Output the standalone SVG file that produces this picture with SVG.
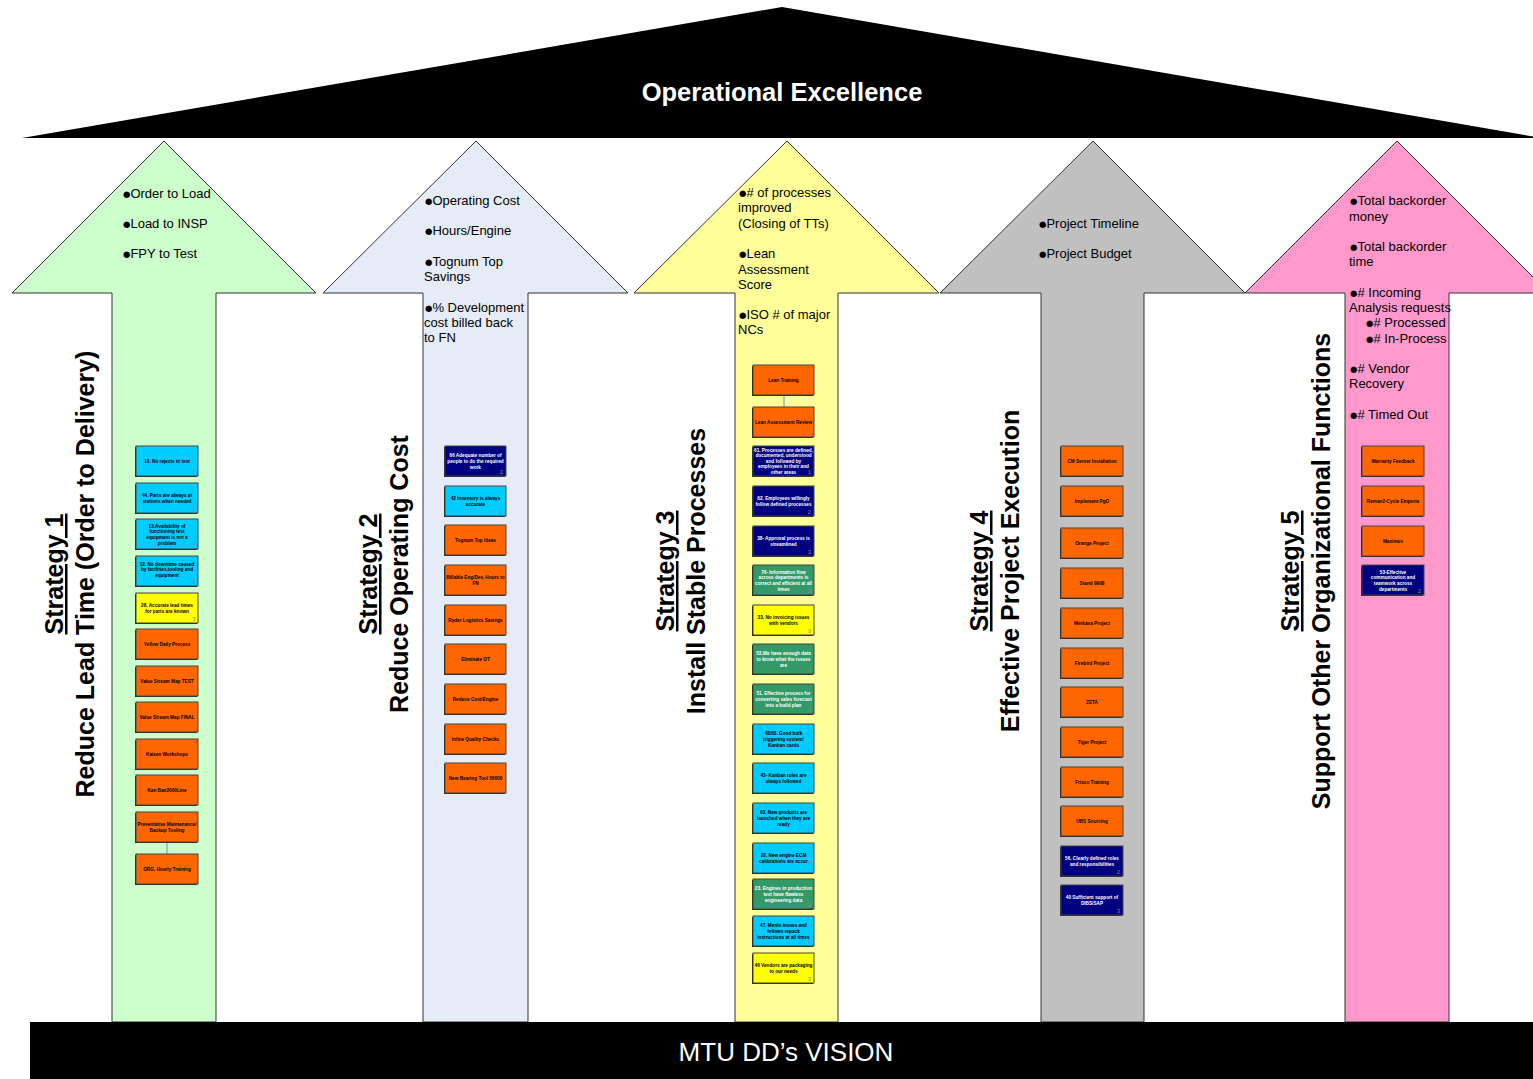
<svg xmlns="http://www.w3.org/2000/svg" width="1533" height="1079" viewBox="0 0 1533 1079">
<style>
  .arrow{stroke:#333;stroke-width:1}
  .sh{fill:#222}
  .bx{stroke:#444;stroke-width:1}
  .or{fill:#ff6600}.cy{fill:#00ccff}.ye{fill:#ffff00}.db{fill:#000080}.gr{fill:#339966}
  .t{font-family:'Liberation Sans',Arial,sans-serif;font-weight:bold;font-size:4.7px;text-anchor:middle;fill:#000}
  .tw{fill:#fff}
  .n{font-family:'Liberation Sans',Arial,sans-serif;font-size:6px;text-anchor:end;fill:#8a8a8a}
  .m{font-family:'Liberation Sans',Arial,sans-serif;font-size:13px;fill:#000}
  .b{font-family:'DejaVu Sans',sans-serif;font-size:8.5px}
  .s{font-family:'Liberation Sans',Arial,sans-serif;font-weight:bold;font-size:25px;text-anchor:middle;fill:#000}
  .u{text-decoration:underline}
  .conn{stroke:#7090b0;stroke-width:1;fill:none}
</style>

<!-- roof -->
<g id="roof">
  <polygon points="22,138 782,7 1542,138" fill="#000"/>
  <text x="782" y="101" font-family="'Liberation Sans',Arial,sans-serif" font-weight="bold" font-size="25.5" fill="#fff" text-anchor="middle">Operational Excellence</text>
</g>

<!-- pillars -->
<g id="pillar1">
  <polygon class="arrow" fill="#ccffcc" points="164,141 316,293 216,293 216,1022 112,1022 112,293 12,293"/>
  <text class="m" x="123" y="198"><tspan class="b" dy="-1.5">●</tspan><tspan dy="1.5">Order to Load</tspan></text>
  <text class="m" x="123" y="228"><tspan class="b" dy="-1.5">●</tspan><tspan dy="1.5">Load to INSP</tspan></text>
  <text class="m" x="123" y="258"><tspan class="b" dy="-1.5">●</tspan><tspan dy="1.5">FPY to Test</tspan></text>
  <text class="s u" transform="translate(63,574) rotate(-90)">Strategy 1</text>
  <text class="s" transform="translate(94,574) rotate(-90)">Reduce Lead Time (Order to Delivery)</text>
</g>
<g id="pillar2">
  <polygon class="arrow" fill="#e6ecf7" points="476,141 628,293 528,293 528,1022 423,1022 423,293 323,293"/>
  <text class="m" x="425" y="205"><tspan class="b" dy="-1.5">●</tspan><tspan dy="1.5">Operating Cost</tspan></text>
  <text class="m" x="425" y="235"><tspan class="b" dy="-1.5">●</tspan><tspan dy="1.5">Hours/Engine</tspan></text>
  <text class="m" x="425" y="266"><tspan class="b" dy="-1.5">●</tspan><tspan dy="1.5">Tognum Top</tspan><tspan x="424" dy="15">Savings</tspan></text>
  <text class="m" x="425" y="312"><tspan class="b" dy="-1.5">●</tspan><tspan dy="1.5">% Development</tspan><tspan x="424" dy="15">cost billed back</tspan><tspan x="424" dy="15">to FN</tspan></text>
  <text class="s u" transform="translate(377,574) rotate(-90)">Strategy 2</text>
  <text class="s" transform="translate(408,574) rotate(-90)">Reduce Operating Cost</text>
</g>
<g id="pillar3">
  <polygon class="arrow" fill="#ffff99" points="787,141 939,293 838,293 838,1022 735,1022 735,293 634,293"/>
  <text class="m" x="739" y="197"><tspan class="b" dy="-1.5">●</tspan><tspan dy="1.5">#</tspan> of processes<tspan x="738" dy="15">improved</tspan><tspan x="738" dy="16">(Closing of TTs)</tspan></text>
  <text class="m" x="739" y="258"><tspan class="b" dy="-1.5">●</tspan><tspan dy="1.5">Lean</tspan><tspan x="738" dy="16">Assessment</tspan><tspan x="738" dy="15">Score</tspan></text>
  <text class="m" x="739" y="319"><tspan class="b" dy="-1.5">●</tspan><tspan dy="1.5">ISO # of major</tspan><tspan x="738" dy="15">NCs</tspan></text>
  <text class="s u" transform="translate(674,571) rotate(-90)">Strategy 3</text>
  <text class="s" transform="translate(705,571) rotate(-90)">Install Stable Processes</text>
</g>
<g id="pillar4">
  <polygon class="arrow" fill="#c0c0c0" points="1093,141 1245,293 1144,293 1144,1022 1041,1022 1041,293 940,293"/>
  <text class="m" x="1039" y="228"><tspan class="b" dy="-1.5">●</tspan><tspan dy="1.5">Project Timeline</tspan></text>
  <text class="m" x="1039" y="258"><tspan class="b" dy="-1.5">●</tspan><tspan dy="1.5">Project Budget</tspan></text>
  <text class="s u" transform="translate(988,571) rotate(-90)">Strategy 4</text>
  <text class="s" transform="translate(1019,571) rotate(-90)">Effective Project Execution</text>
</g>
<g id="pillar5">
  <polygon class="arrow" fill="#ff99cc" points="1397,141 1549,293 1449,293 1449,1022 1345,1022 1345,293 1245,293"/>
  <text class="m" x="1350" y="205"><tspan class="b" dy="-1.5">●</tspan><tspan dy="1.5">Total backorder</tspan><tspan x="1349" dy="16">money</tspan></text>
  <text class="m" x="1350" y="251"><tspan class="b" dy="-1.5">●</tspan><tspan dy="1.5">Total backorder</tspan><tspan x="1349" dy="15">time</tspan></text>
  <text class="m" x="1350" y="297"><tspan class="b" dy="-1.5">●</tspan><tspan dy="1.5">#</tspan> Incoming<tspan x="1349" dy="15">Analysis requests</tspan><tspan class="b" x="1366" dy="13.5">●</tspan><tspan dy="1.5"># Processed</tspan><tspan class="b" x="1366" dy="14.5">●</tspan><tspan dy="1.5"># In-Process</tspan></text>
  <text class="m" x="1350" y="373"><tspan class="b" dy="-1.5">●</tspan><tspan dy="1.5"># Vendor</tspan><tspan x="1349" dy="15">Recovery</tspan></text>
  <text class="m" x="1350" y="419"><tspan class="b" dy="-1.5">●</tspan><tspan dy="1.5"># Timed Out</tspan></text>
  <text class="s u" transform="translate(1299,571) rotate(-90)">Strategy 5</text>
  <text class="s" transform="translate(1330,571) rotate(-90)">Support Other Organizational Functions</text>
</g>

<!-- base -->
<g id="vision">
  <rect x="30" y="1022" width="1503" height="57" fill="#000"/>
  <text x="786" y="1061" font-family="'Liberation Sans',Arial,sans-serif" font-size="26" fill="#fff" text-anchor="middle">MTU DD’s VISION</text>
</g>

<!-- connectors -->
<g id="connectors">
  <line class="conn" x1="167" y1="842" x2="167" y2="854"/>
  <line class="conn" x1="784" y1="395" x2="784" y2="407"/>
</g>

<!-- column 1 -->
<g id="c1-14"><rect class="sh" x="135" y="447" width="62" height="30"/><rect class="bx cy" x="136" y="446" width="62" height="30"/><text class="t" x="167" y="462.8">14. No rejects in test</text><text class="n" x="195.5" y="474">1</text></g>
<g id="c1-44"><rect class="sh" x="135" y="484" width="62" height="30"/><rect class="bx cy" x="136" y="483" width="62" height="30"/><text class="t" x="167" y="496.5">44. Parts are always at<tspan x="167" dy="6.5">stations when needed</tspan></text><text class="n" x="195.5" y="511">1</text></g>
<g id="c1-13"><rect class="sh" x="135" y="520" width="62" height="30"/><rect class="bx cy" x="136" y="519" width="62" height="30"/><text class="t" x="167" y="527.6">13.Availability of<tspan x="167" dy="5.8">functioning test</tspan><tspan x="167" dy="5.8">equipment is not a</tspan><tspan x="167" dy="5.8">problem</tspan></text><text class="n" x="195.5" y="547">3</text></g>
<g id="c1-12"><rect class="sh" x="135" y="557" width="62" height="30"/><rect class="bx cy" x="136" y="556" width="62" height="30"/><text class="t" x="167" y="565.5">12. No downtime caused<tspan x="167" dy="5.5">by facilities,tooling and</tspan><tspan x="167" dy="5.5">equipment</tspan></text><text class="n" x="195.5" y="584">3</text></g>
<g id="c1-28"><rect class="sh" x="135" y="594" width="62" height="30"/><rect class="bx ye" x="136" y="593" width="62" height="30"/><text class="t" x="167" y="606.9">28. Accurate lead times<tspan x="167" dy="5.8">for parts are known</tspan></text><text class="n" x="195.5" y="621">3</text></g>
<g id="c1-ydp"><rect class="sh" x="135" y="630" width="62" height="30"/><rect class="bx or" x="136" y="629" width="62" height="30"/><text class="t" x="167" y="645.8">Yellow Daily Process</text></g>
<g id="c1-vsmt"><rect class="sh" x="135" y="667" width="62" height="30"/><rect class="bx or" x="136" y="666" width="62" height="30"/><text class="t" x="167" y="682.8">Value Stream Map TEST</text></g>
<g id="c1-vsmf"><rect class="sh" x="135" y="703" width="62" height="30"/><rect class="bx or" x="136" y="702" width="62" height="30"/><text class="t" x="167" y="718.8">Value Stream Map FINAL</text></g>
<g id="c1-kaizen"><rect class="sh" x="135" y="740" width="62" height="30"/><rect class="bx or" x="136" y="739" width="62" height="30"/><text class="t" x="167" y="755.8">Kaizen Workshops</text></g>
<g id="c1-kanban"><rect class="sh" x="135" y="776" width="62" height="30"/><rect class="bx or" x="136" y="775" width="62" height="30"/><text class="t" x="167" y="791.8">Kan Ban2000Line</text></g>
<g id="c1-prev"><rect class="sh" x="135" y="813" width="62" height="30"/><rect class="bx or" x="136" y="812" width="62" height="30"/><text class="t" x="167" y="825.9">Preventative Maintenance/<tspan x="167" dy="5.8">Backup Tooling</tspan></text></g>
<g id="c1-org"><rect class="sh" x="135" y="855" width="62" height="30"/><rect class="bx or" x="136" y="854" width="62" height="30"/><text class="t" x="167" y="870.8">ORG, Hourly Training</text></g>

<!-- column 2 -->
<g id="c2-66"><rect class="sh" x="444" y="447" width="61" height="30"/><rect class="bx db" x="445" y="446" width="61" height="30"/><text class="t tw" x="475.5" y="457">66 Adequate number of<tspan x="475.5" dy="5.8">people to do the required</tspan><tspan x="475.5" dy="5.8">work</tspan></text><text class="n" x="503" y="474" fill="#bbb">2</text></g>
<g id="c2-42"><rect class="sh" x="444" y="487" width="61" height="30"/><rect class="bx cy" x="445" y="486" width="61" height="30"/><text class="t" x="475.5" y="499.9">42 Inventory is always<tspan x="475.5" dy="5.8">accurate</tspan></text><text class="n" x="503" y="514">1</text></g>
<g id="c2-tognum"><rect class="sh" x="444" y="526" width="61" height="30"/><rect class="bx or" x="445" y="525" width="61" height="30"/><text class="t" x="475.5" y="541.8">Tognum Top Ideas</text></g>
<g id="c2-billable"><rect class="sh" x="444" y="566" width="61" height="30"/><rect class="bx or" x="445" y="565" width="61" height="30"/><text class="t" x="475.5" y="578.9">Billable Eng/Dev. Hours to<tspan x="475.5" dy="5.8">FN</tspan></text></g>
<g id="c2-ryder"><rect class="sh" x="444" y="606" width="61" height="30"/><rect class="bx or" x="445" y="605" width="61" height="30"/><text class="t" x="475.5" y="621.8">Ryder Logistics Savings</text></g>
<g id="c2-ot"><rect class="sh" x="444" y="645" width="61" height="30"/><rect class="bx or" x="445" y="644" width="61" height="30"/><text class="t" x="475.5" y="660.8">Eliminate OT</text></g>
<g id="c2-cost"><rect class="sh" x="444" y="685" width="61" height="30"/><rect class="bx or" x="445" y="684" width="61" height="30"/><text class="t" x="475.5" y="700.8">Reduce Cost/Engine</text></g>
<g id="c2-inline"><rect class="sh" x="444" y="725" width="61" height="30"/><rect class="bx or" x="445" y="724" width="61" height="30"/><text class="t" x="475.5" y="740.8">Inline Quality Checks</text></g>
<g id="c2-bearing"><rect class="sh" x="444" y="764" width="61" height="30"/><rect class="bx or" x="445" y="763" width="61" height="30"/><text class="t" x="475.5" y="779.8">New Bearing Tool 56000</text></g>

<!-- column 3 -->
<g id="c3-lt"><rect class="sh" x="752" y="366" width="61" height="30"/><rect class="bx or" x="753" y="365" width="61" height="30"/><text class="t" x="783.5" y="381.8">Lean Training</text></g>
<g id="c3-lar"><rect class="sh" x="752" y="408" width="61" height="30"/><rect class="bx or" x="753" y="407" width="61" height="30"/><text class="t" x="783.5" y="423.8">Lean Assessment Review</text></g>
<g id="c3-61"><rect class="sh" x="752" y="447" width="61" height="30"/><rect class="bx db" x="753" y="446" width="61" height="30"/><text class="t tw" x="783.5" y="451.8">61. Processes are defined,<tspan x="783.5" dy="5.5">documented, understood</tspan><tspan x="783.5" dy="5.5">and followed by</tspan><tspan x="783.5" dy="5.5">employees in their and</tspan><tspan x="783.5" dy="5.5">other areas</tspan></text><text class="n" x="811" y="474" fill="#bbb">1</text></g>
<g id="c3-62"><rect class="sh" x="752" y="487" width="61" height="30"/><rect class="bx db" x="753" y="486" width="61" height="30"/><text class="t tw" x="783.5" y="499.9">62. Employees willingly<tspan x="783.5" dy="5.8">follow defined processes</tspan></text><text class="n" x="811" y="514" fill="#bbb">2</text></g>
<g id="c3-38"><rect class="sh" x="752" y="527" width="61" height="30"/><rect class="bx db" x="753" y="526" width="61" height="30"/><text class="t tw" x="783.5" y="539.9">38- Approval process is<tspan x="783.5" dy="5.8">streamlined</tspan></text><text class="n" x="811" y="554" fill="#bbb">3</text></g>
<g id="c3-76"><rect class="sh" x="752" y="566" width="61" height="30"/><rect class="bx gr" x="753" y="565" width="61" height="30"/><text class="t tw" x="783.5" y="573.6">76- Information flow<tspan x="783.5" dy="5.8">across departments is</tspan><tspan x="783.5" dy="5.8">correct and efficient at all</tspan><tspan x="783.5" dy="5.8">times</tspan></text><text class="n" x="811" y="593" fill="#bbb">2</text></g>
<g id="c3-33"><rect class="sh" x="752" y="606" width="61" height="30"/><rect class="bx ye" x="753" y="605" width="61" height="30"/><text class="t" x="783.5" y="618.9">33. No invoicing issues<tspan x="783.5" dy="5.8">with vendors</tspan></text><text class="n" x="811" y="633">3</text></g>
<g id="c3-53"><rect class="sh" x="752" y="645" width="61" height="30"/><rect class="bx gr" x="753" y="644" width="61" height="30"/><text class="t tw" x="783.5" y="655">53.We have enough data<tspan x="783.5" dy="5.8">to know what the issues</tspan><tspan x="783.5" dy="5.8">are</tspan></text><text class="n" x="811" y="672" fill="#bbb">2</text></g>
<g id="c3-51"><rect class="sh" x="752" y="685" width="61" height="30"/><rect class="bx gr" x="753" y="684" width="61" height="30"/><text class="t tw" x="783.5" y="695">51. Effective process for<tspan x="783.5" dy="5.8">converting sales forecast</tspan><tspan x="783.5" dy="5.8">into a build plan</tspan></text><text class="n" x="811" y="712" fill="#bbb">2</text></g>
<g id="c3-48"><rect class="sh" x="752" y="725" width="61" height="30"/><rect class="bx cy" x="753" y="724" width="61" height="30"/><text class="t" x="783.5" y="735">48/66. Good bulk<tspan x="783.5" dy="5.8">triggering system/</tspan><tspan x="783.5" dy="5.8">Kanban cards</tspan></text><text class="n" x="811" y="752">2</text></g>
<g id="c3-43"><rect class="sh" x="752" y="764" width="61" height="30"/><rect class="bx cy" x="753" y="763" width="61" height="30"/><text class="t" x="783.5" y="776.9">43- Kanban rules are<tspan x="783.5" dy="5.8">always followed</tspan></text><text class="n" x="811" y="791">1</text></g>
<g id="c3-63"><rect class="sh" x="752" y="804" width="61" height="30"/><rect class="bx cy" x="753" y="803" width="61" height="30"/><text class="t" x="783.5" y="814">63. New products are<tspan x="783.5" dy="5.8">launched when they are</tspan><tspan x="783.5" dy="5.8">ready</tspan></text><text class="n" x="811" y="831">1</text></g>
<g id="c3-22"><rect class="sh" x="752" y="844" width="61" height="30"/><rect class="bx cy" x="753" y="843" width="61" height="30"/><text class="t" x="783.5" y="856.9">22. New engine ECM<tspan x="783.5" dy="5.8">calibrations are accur</tspan></text><text class="n" x="811" y="864">1</text></g>
<g id="c3-23"><rect class="sh" x="752" y="880" width="61" height="30"/><rect class="bx gr" x="753" y="879" width="61" height="30"/><text class="t tw" x="783.5" y="890">23. Engines in production<tspan x="783.5" dy="5.8">test have flawless</tspan><tspan x="783.5" dy="5.8">engineering data</tspan></text><text class="n" x="811" y="907" fill="#bbb">2</text></g>
<g id="c3-47"><rect class="sh" x="752" y="917" width="61" height="30"/><rect class="bx cy" x="753" y="916" width="61" height="30"/><text class="t" x="783.5" y="927">47. Menlo knows and<tspan x="783.5" dy="5.8">follows repack</tspan><tspan x="783.5" dy="5.8">instructions at all times</tspan></text><text class="n" x="811" y="944">3</text></g>
<g id="c3-46"><rect class="sh" x="752" y="954" width="61" height="30"/><rect class="bx ye" x="753" y="953" width="61" height="30"/><text class="t" x="783.5" y="966.9">46 Vendors are packaging<tspan x="783.5" dy="5.8">to our needs</tspan></text><text class="n" x="811" y="981">3</text></g>

<!-- column 4 -->
<g id="c4-cm"><rect class="sh" x="1060" y="447" width="62" height="30"/><rect class="bx or" x="1061" y="446" width="62" height="30"/><text class="t" x="1092" y="462.8">CM Server Installation</text></g>
<g id="c4-pgo"><rect class="sh" x="1060" y="487" width="62" height="30"/><rect class="bx or" x="1061" y="486" width="62" height="30"/><text class="t" x="1092" y="502.8">Implement PgO</text></g>
<g id="c4-orange"><rect class="sh" x="1060" y="529" width="62" height="30"/><rect class="bx or" x="1061" y="528" width="62" height="30"/><text class="t" x="1092" y="544.8">Orange Project</text></g>
<g id="c4-stand"><rect class="sh" x="1060" y="569" width="62" height="30"/><rect class="bx or" x="1061" y="568" width="62" height="30"/><text class="t" x="1092" y="584.8">Stand 9908</text></g>
<g id="c4-merkava"><rect class="sh" x="1060" y="609" width="62" height="30"/><rect class="bx or" x="1061" y="608" width="62" height="30"/><text class="t" x="1092" y="624.8">Merkava Project</text></g>
<g id="c4-firebird"><rect class="sh" x="1060" y="649" width="62" height="30"/><rect class="bx or" x="1061" y="648" width="62" height="30"/><text class="t" x="1092" y="664.8">Firebird Project</text></g>
<g id="c4-zeta"><rect class="sh" x="1060" y="688" width="62" height="30"/><rect class="bx or" x="1061" y="687" width="62" height="30"/><text class="t" x="1092" y="703.8">ZETA</text></g>
<g id="c4-tiger"><rect class="sh" x="1060" y="728" width="62" height="30"/><rect class="bx or" x="1061" y="727" width="62" height="30"/><text class="t" x="1092" y="743.8">Tiger Project</text></g>
<g id="c4-frisco"><rect class="sh" x="1060" y="768" width="62" height="30"/><rect class="bx or" x="1061" y="767" width="62" height="30"/><text class="t" x="1092" y="783.8">Frisco Training</text></g>
<g id="c4-ubs"><rect class="sh" x="1060" y="807" width="62" height="30"/><rect class="bx or" x="1061" y="806" width="62" height="30"/><text class="t" x="1092" y="822.8">UBS Sourcing</text></g>
<g id="c4-56"><rect class="sh" x="1060" y="847" width="62" height="30"/><rect class="bx db" x="1061" y="846" width="62" height="30"/><text class="t tw" x="1092" y="859.9">56. Clearly defined roles<tspan x="1092" dy="5.8">and responsibilities</tspan></text><text class="n" x="1120" y="874" fill="#bbb">2</text></g>
<g id="c4-40"><rect class="sh" x="1060" y="886" width="62" height="30"/><rect class="bx db" x="1061" y="885" width="62" height="30"/><text class="t tw" x="1092" y="898.9">40 Sufficient support of<tspan x="1092" dy="5.8">DIBS/SAP</tspan></text><text class="n" x="1120" y="913" fill="#bbb">3</text></g>

<!-- column 5 -->
<g id="c5-warranty"><rect class="sh" x="1361" y="447" width="62" height="30"/><rect class="bx or" x="1362" y="446" width="62" height="30"/><text class="t" x="1393" y="462.8">Warranty Feedback</text></g>
<g id="c5-reman"><rect class="sh" x="1361" y="487" width="62" height="30"/><rect class="bx or" x="1362" y="486" width="62" height="30"/><text class="t" x="1393" y="502.8">Reman2-Cycle Emporia</text></g>
<g id="c5-maximus"><rect class="sh" x="1361" y="527" width="62" height="30"/><rect class="bx or" x="1362" y="526" width="62" height="30"/><text class="t" x="1393" y="542.8">Maximus</text></g>
<g id="c5-53"><rect class="sh" x="1361" y="566" width="62" height="30"/><rect class="bx db" x="1362" y="565" width="62" height="30"/><text class="t tw" x="1393" y="573.6">53-Effective<tspan x="1393" dy="5.8">communication and</tspan><tspan x="1393" dy="5.8">teamwork across</tspan><tspan x="1393" dy="5.8">departments</tspan></text><text class="n" x="1421" y="593" fill="#bbb">2</text></g>
</svg>
